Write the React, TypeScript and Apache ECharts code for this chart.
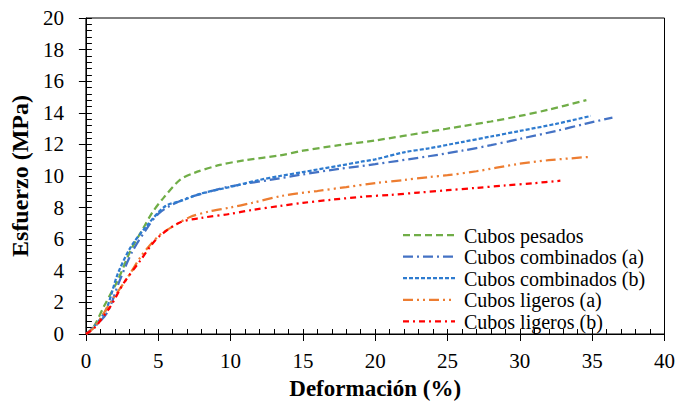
import React, { useEffect, useRef } from "react";
import * as echarts from "echarts";

const FONT = "Liberation Serif";

const seriesNames = [
  "Cubos pesados",
  "Cubos combinados (a)",
  "Cubos combinados (b)",
  "Cubos ligeros (a)",
  "Cubos ligeros (b)",
];

// [deformación %, esfuerzo MPa]
const pesados: number[][] = [
  [0, 0], [0.5, 0.4], [1.25, 1.75], [2.2, 3.4], [3.1, 5.3], [4.0, 6.75], [4.6, 7.7],
  [5.35, 8.6], [6.5, 9.75], [7.5, 10.2], [9.26, 10.7], [11, 11.0], [13.4, 11.3],
  [15, 11.6], [17.5, 11.95], [20, 12.25], [23.7, 12.8], [26, 13.15], [28, 13.45],
  [30, 13.8], [32, 14.2], [34.6, 14.8],
];
const combinadosA: number[][] = [
  [0, 0], [0.6, 0.45], [1.5, 1.4], [2.3, 3.3], [3.2, 5.2], [4.3, 6.8], [5.0, 7.6],
  [5.8, 8.1], [7, 8.6], [8.5, 9.0], [10, 9.35], [12.7, 9.75], [15, 10.1], [17.5, 10.45],
  [20, 10.75], [23.7, 11.25], [26, 11.6], [28, 11.95], [30, 12.35], [32.5, 12.85],
  [34.5, 13.3], [36.4, 13.7],
];
const combinadosB: number[][] = [
  [0, 0], [0.6, 0.5], [1.4, 1.55], [2.2, 3.8], [3.1, 5.5], [4.25, 6.9], [5.5, 8.1],
  [6.5, 8.4], [8, 8.9], [9.95, 9.3], [12, 9.75], [13.4, 10.0], [15, 10.25], [17.5, 10.65],
  [19, 10.9], [20, 11.05], [22, 11.5], [23.7, 11.75], [26, 12.15], [28, 12.5],
  [30, 12.85], [32.5, 13.3], [34.9, 13.8],
];
const ligerosA: number[][] = [
  [0, 0], [0.6, 0.45], [1.85, 2.2], [2.9, 3.6], [3.8, 4.9], [4.5, 5.7], [5.15, 6.3],
  [6, 6.8], [7.2, 7.4], [8.5, 7.75], [9.95, 8.0], [11.5, 8.3], [13.6, 8.75], [16, 9.05],
  [18, 9.3], [20, 9.55], [22, 9.75], [23.7, 9.93], [25, 10.05], [27, 10.3],
  [29.8, 10.75], [32, 11.0], [34.7, 11.2],
];
const ligerosB: number[][] = [
  [0, 0], [0.6, 0.4], [1.7, 1.75], [2.6, 3.2], [3.8, 4.7], [4.5, 5.6], [5.15, 6.25],
  [6.5, 7.06], [8, 7.35], [9.95, 7.6], [11.5, 7.85], [13.4, 8.1], [15, 8.3], [17, 8.5],
  [19.3, 8.7], [21, 8.8], [23, 8.95], [25, 9.1], [27, 9.25], [29, 9.4], [31, 9.55],
  [32.8, 9.7],
];

const seriesData = [pesados, combinadosA, combinadosB, ligerosA, ligerosB];
const colors = ["#70AD47", "#4472C4", "#2E7BCF", "#ED7D31", "#FF0000"];
const dashes: number[][] = [
  [7, 4],
  [10, 4, 2, 4],
  [4, 2],
  [10, 4, 2, 4, 2, 4],
  [6, 4, 2, 4],
];

export default function App() {
  const ref = useRef<HTMLDivElement>(null);
  useEffect(() => {
    if (!ref.current) return;
    const chart = echarts.init(ref.current, null, { renderer: "svg" });
    const black = { color: "#000", width: 1 };
    const legendLeft = 403;
    const legendTop = 235;
    const legendStep = 21.6;
    const legendGraphics: any[] = [];
    seriesNames.forEach((name, i) => {
      const y = legendTop + i * legendStep;
      legendGraphics.push({
        type: "line",
        shape: { x1: legendLeft, y1: y, x2: legendLeft + 52, y2: y },
        style: { stroke: colors[i], lineWidth: 2.25, lineDash: dashes[i] },
        silent: true,
      });
      legendGraphics.push({
        type: "text",
        x: 464,
        y: y + 0.5,
        style: {
          text: name,
          fontFamily: FONT,
          fontSize: 20,
          lineHeight: 20,
          fill: "#000",
          verticalAlign: "middle",
        },
        silent: true,
      });
    });
    chart.setOption({
      animation: false,
      textStyle: { fontFamily: FONT },
      grid: {
        left: 85,
        right: 10,
        top: 18,
        bottom: 67,
        show: true,
        borderColor: "#000",
        borderWidth: 1,
        backgroundColor: "transparent",
      },
      graphic: legendGraphics,
      xAxis: [
        {
          type: "value",
          min: 0,
          max: 40,
          interval: 5,
          position: "bottom",
          name: "Deformación (%)",
          nameLocation: "middle",
          nameGap: 43,
          nameTextStyle: { fontFamily: FONT, fontSize: 23, fontWeight: "bold", color: "#000" },
          axisLine: { show: true, onZero: false, lineStyle: black },
          axisTick: { show: true, inside: false, length: 7, lineStyle: black },
          axisLabel: { fontFamily: FONT, fontSize: 21, color: "#000", margin: 16 },
          splitLine: { show: false },
        },
        {
          type: "value",
          min: 0,
          max: 40,
          interval: 5,
          position: "bottom",
          axisLine: { show: false, onZero: false },
          axisTick: { show: true, inside: true, length: 5, lineStyle: black },
          minorTick: { show: true, splitNumber: 5, length: 5, lineStyle: black },
          axisLabel: { show: false },
          splitLine: { show: false },
        },
      ],
      yAxis: [
        {
          type: "value",
          min: 0,
          max: 20,
          interval: 2,
          position: "left",
          name: "Esfuerzo (MPa)",
          nameLocation: "middle",
          nameGap: 48,
          nameTextStyle: { fontFamily: FONT, fontSize: 24, fontWeight: "bold", color: "#000" },
          axisLine: { show: true, onZero: false, lineStyle: black },
          axisTick: { show: true, inside: false, length: 7, lineStyle: black },
          axisLabel: { fontFamily: FONT, fontSize: 21, color: "#000", margin: 22 },
          splitLine: { show: false },
        },
        {
          type: "value",
          min: 0,
          max: 20,
          interval: 2,
          position: "left",
          offset: 0,
          axisLine: { show: false, onZero: false },
          axisTick: { show: true, inside: true, length: 6, lineStyle: black },
          minorTick: { show: true, splitNumber: 5, length: 6, lineStyle: black },
          axisLabel: { show: false },
          splitLine: { show: false },
        },
      ],
      series: seriesNames.map((name, i) => ({
        name,
        type: "line",
        xAxisIndex: 0,
        yAxisIndex: 0,
        data: seriesData[i],
        showSymbol: false,
        symbol: "none",
        smooth: 0.3,
        color: colors[i],
        lineStyle: { color: colors[i], width: 2.25, type: dashes[i], cap: "butt" },
      })),
    });
    return () => chart.dispose();
  }, []);
  return (
    <div
      ref={ref}
      style={{ position: "absolute", left: 0, top: 0, width: 678, height: 405 }}
    />
  );
}
